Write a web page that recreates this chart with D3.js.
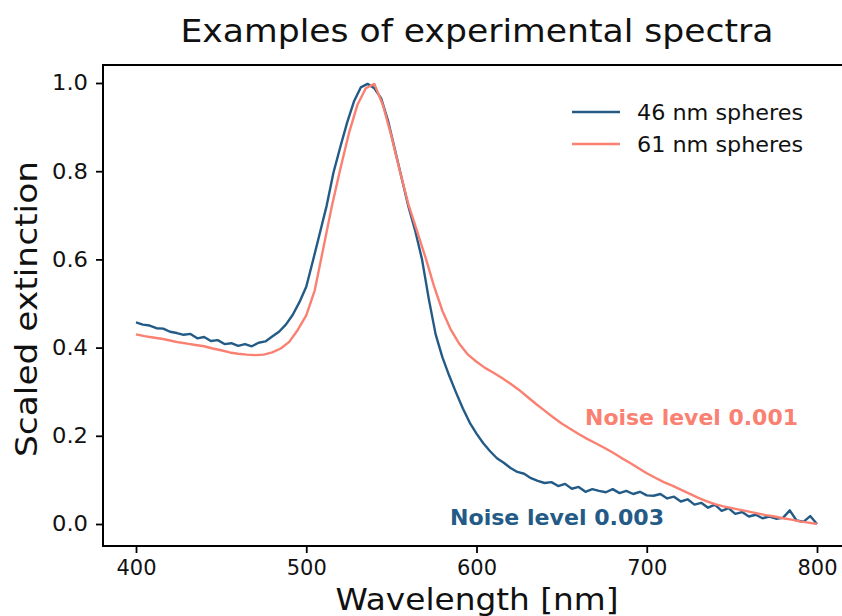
<!DOCTYPE html>
<html>
<head>
<meta charset="utf-8">
<script src="https://cdn.jsdelivr.net/npm/d3@7"></script>
<style>
    body { margin: 0; background: white; }
    text { font-family: "DejaVu Sans", sans-serif; }
</style>
</head>
<body>
<svg id="chart"></svg>
<script>
// 46 nm spheres, sampled every 4 nm (noise level 0.003)
let wl46 = d3.range(400, 801, 4);
let ext46 = [
    0.457, 0.452, 0.450, 0.444, 0.443, 0.436, 0.433, 0.429, 0.431, 0.421,
    0.424, 0.415, 0.417, 0.408, 0.410, 0.404, 0.408, 0.403, 0.411, 0.414,
    0.425, 0.436, 0.452, 0.474, 0.503, 0.538, 0.598, 0.660, 0.722, 0.797,
    0.855, 0.910, 0.958, 0.990, 0.998, 0.988, 0.965, 0.915, 0.850, 0.785,
    0.720, 0.665, 0.600, 0.510, 0.430, 0.378, 0.336, 0.298, 0.262, 0.230,
    0.205, 0.183, 0.165, 0.149, 0.139, 0.127, 0.118, 0.114, 0.104, 0.098,
    0.093, 0.095, 0.086, 0.091, 0.080, 0.084, 0.073, 0.079, 0.075, 0.072,
    0.079, 0.070, 0.075, 0.068, 0.073, 0.065, 0.064, 0.068, 0.058, 0.062,
    0.051, 0.056, 0.044, 0.048, 0.037, 0.044, 0.030, 0.036, 0.023, 0.027,
    0.017, 0.021, 0.013, 0.017, 0.012, 0.014, 0.031, 0.008, 0.005, 0.018,
    0.000
];

// 61 nm spheres, sampled every 5 nm (noise level 0.001)
let wl61 = d3.range(400, 801, 5);
let ext61 = [
    0.430, 0.426, 0.423, 0.420, 0.416, 0.412, 0.409, 0.406, 0.403, 0.398,
    0.394, 0.389, 0.386, 0.384, 0.383, 0.384, 0.389, 0.398, 0.413, 0.440,
    0.473, 0.530, 0.625, 0.720, 0.805, 0.885, 0.950, 0.988, 0.998, 0.950,
    0.880, 0.800, 0.725, 0.665, 0.605, 0.540, 0.483, 0.440, 0.408, 0.384,
    0.368, 0.354, 0.343, 0.331, 0.318, 0.304, 0.288, 0.272, 0.257, 0.242,
    0.228, 0.216, 0.204, 0.193, 0.183, 0.173, 0.162, 0.150, 0.139, 0.127,
    0.115, 0.105, 0.095, 0.087, 0.078, 0.069, 0.060, 0.052, 0.045, 0.040,
    0.036, 0.032, 0.028, 0.024, 0.020, 0.017, 0.013, 0.010, 0.006, 0.003,
    0.000
];

let seriesNames = ["46 nm spheres", "61 nm spheres"];
let seriesColors = ["#235b86", "#fa8072"];
let noiseLabels = ["Noise level 0.003", "Noise level 0.001"];
let xTicks = [400, 500, 600, 700, 800];
let yTicks = [0.0, 0.2, 0.4, 0.6, 0.8, 1.0];

let width = 842;
let height = 616;
let svg = d3.select("#chart")
    .attr("width", width)
    .attr("height", height);

// axes frame goes past the right edge of the picture
let frame = {left: 103, right: 851, top: 65, bottom: 546};
let x = d3.scaleLinear().domain([400, 800]).range([136, 817]);
let y = d3.scaleLinear().domain([0, 1]).range([524, 83]);

let series = [
    {name: seriesNames[0], color: seriesColors[0], pts: wl46.map((d, i) => [d, ext46[i]])},
    {name: seriesNames[1], color: seriesColors[1], pts: wl61.map((d, i) => [d, ext61[i]])}
];

let line = d3.line()
    .x(d => x(d[0]))
    .y(d => y(d[1]));

svg.append("g")
    .selectAll("path")
    .data(series)
    .join("path")
    .attr("d", d => line(d.pts))
    .attr("fill", "none")
    .attr("stroke", d => d.color)
    .attr("stroke-width", 2.4)
    .attr("stroke-linejoin", "round");

// spines
svg.append("rect")
    .attr("x", frame.left)
    .attr("y", frame.top)
    .attr("width", frame.right - frame.left)
    .attr("height", frame.bottom - frame.top)
    .attr("fill", "none")
    .attr("stroke", "black")
    .attr("stroke-width", 2);

// helper: squeeze/stretch a text to the width seen in the picture
function fit(sel, w) {
    return sel.attr("textLength", w).attr("lengthAdjust", "spacingAndGlyphs");
}

// x axis
let xAxis = svg.append("g")
    .attr("transform", `translate(0,${frame.bottom})`)
    .call(d3.axisBottom(x).tickValues(xTicks).tickSize(7).tickPadding(7).tickFormat(d3.format("d")));
xAxis.select(".domain").remove();
xAxis.selectAll("line").attr("stroke-width", 1.8);
xAxis.selectAll("text")
    .attr("font-size", 21.5)
    .attr("fill", "#111")
    .attr("font-family", "DejaVu Sans")
    .attr("dy", "0.71em")
    .each(function() { fit(d3.select(this), 40); });

// y axis
let yAxis = svg.append("g")
    .attr("transform", `translate(${frame.left},0)`)
    .call(d3.axisLeft(y).tickValues(yTicks).tickSize(7).tickPadding(8).tickFormat(d3.format(".1f")));
yAxis.select(".domain").remove();
yAxis.selectAll("line").attr("stroke-width", 1.8);
yAxis.selectAll("text")
    .attr("font-size", 21.5)
    .attr("fill", "#111")
    .attr("font-family", "DejaVu Sans")
    .each(function() { fit(d3.select(this), 36); });

// title and axis labels
fit(svg.append("text")
    .attr("x", 477)
    .attr("y", 42)
    .attr("text-anchor", "middle")
    .attr("font-size", 32)
    .attr("fill", "#111")
    .text("Examples of experimental spectra"), 593);

fit(svg.append("text")
    .attr("x", 477)
    .attr("y", 610)
    .attr("text-anchor", "middle")
    .attr("font-size", 31)
    .attr("fill", "#111")
    .text("Wavelength [nm]"), 283);

fit(svg.append("text")
    .attr("transform", "translate(37,309) rotate(-90)")
    .attr("text-anchor", "middle")
    .attr("font-size", 29.5)
    .attr("fill", "#111")
    .text("Scaled extinction"), 296);

// legend
let legend = svg.append("g");
series.forEach((s, i) => {
    let ly = 112 + i * 32;
    legend.append("line")
        .attr("x1", 572).attr("x2", 620)
        .attr("y1", ly).attr("y2", ly)
        .attr("stroke", s.color)
        .attr("stroke-width", 2.4);
    fit(legend.append("text")
        .attr("x", 637)
        .attr("y", ly + 7.5)
        .attr("font-size", 20.5)
        .attr("fill", "#111")
        .text(s.name), 166);
});

// noise annotations
let notes = [
    {text: noiseLabels[0], color: seriesColors[0], x: 450, y: 525, w: 214},
    {text: noiseLabels[1], color: seriesColors[1], x: 585, y: 425, w: 213}
];
notes.forEach(n => {
    fit(svg.append("text")
        .attr("x", n.x)
        .attr("y", n.y)
        .attr("font-size", 22)
        .attr("font-weight", "bold")
        .attr("fill", n.color)
        .text(n.text), n.w);
});
</script>
</body>
</html>
